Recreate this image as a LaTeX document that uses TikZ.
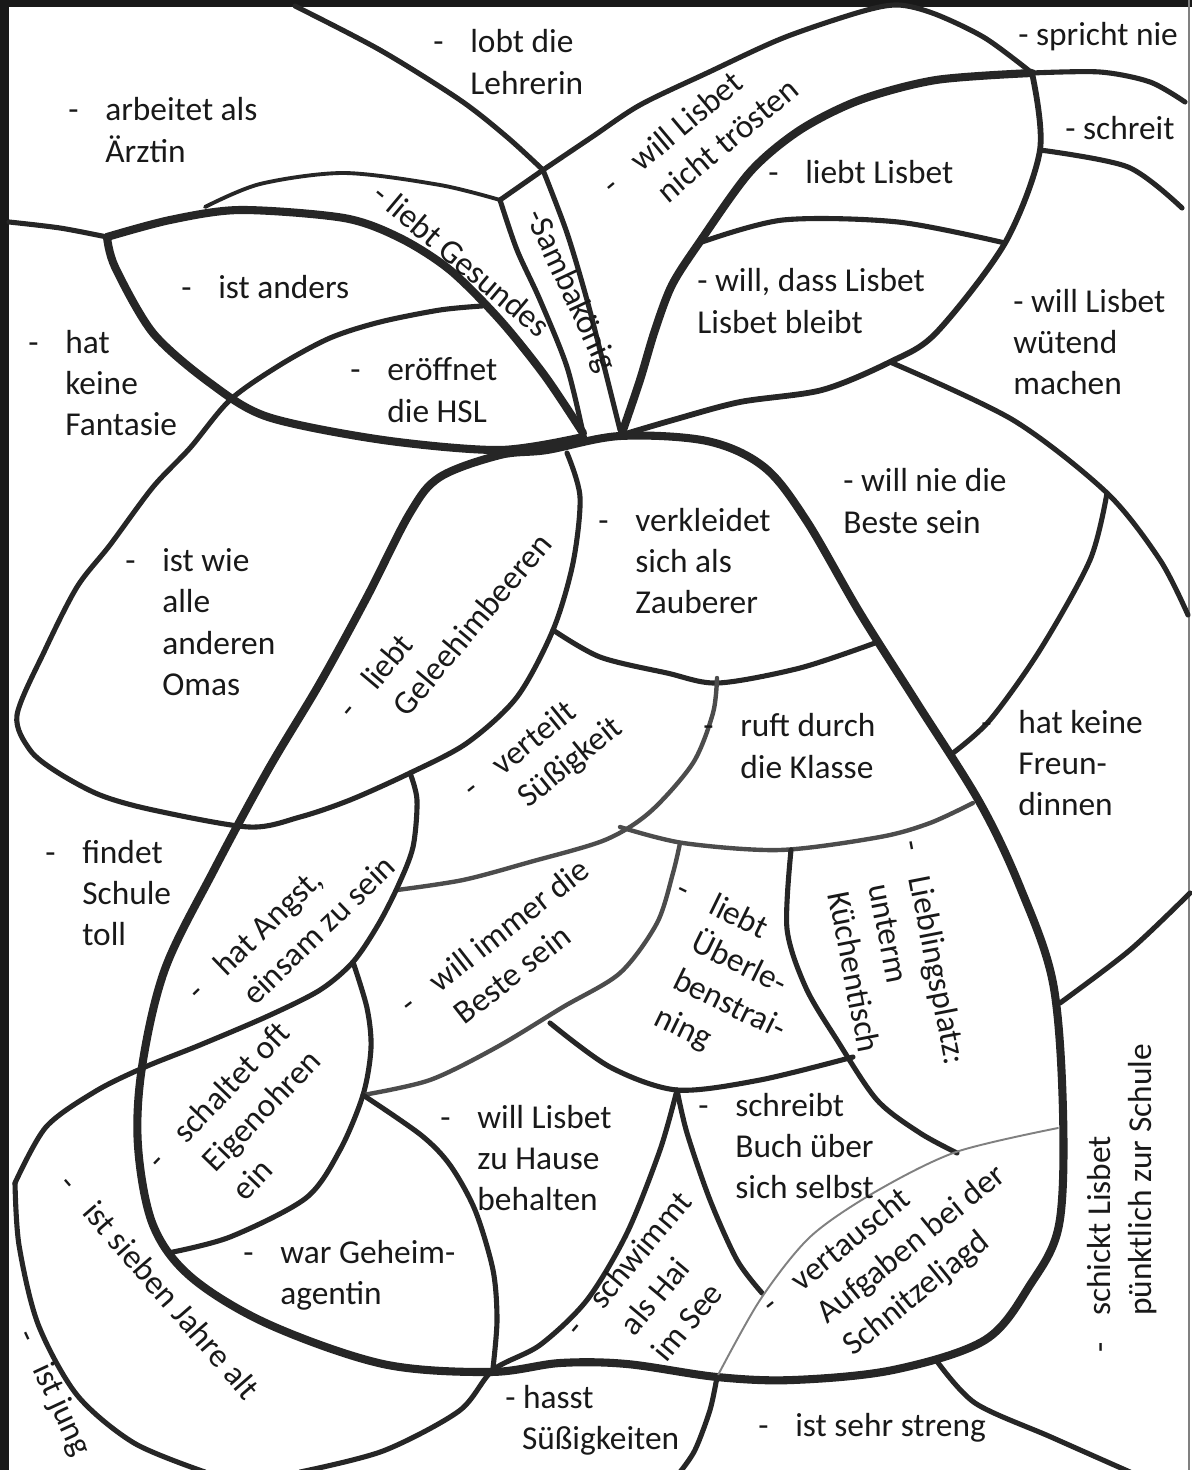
\documentclass[tikz,border=0pt]{standalone}
\usepackage{fontspec}
\setmainfont{Carlito}
\newcommand{\bubfont}{\fontsize{19}{23.5}\selectfont}
\newcommand{\dsh}{\llap{-\hspace{0.8em}}}

\begin{document}
\begin{tikzpicture}[x=0.02cm, y=-0.02cm,
    pen/.style={line width=2.9pt, draw=black!85, line cap=round, line join=round},
    bold/.style={pen, line width=4.6pt},
    soft/.style={pen, line width=2.5pt, draw=black!70},
    hair/.style={line width=1.1pt, draw=black!50, line cap=round},
    txt/.style={font=\bubfont, inner sep=0pt, align=left, text=black!90},
    lab/.style={txt, anchor=west}]
  \useasboundingbox (0,0) rectangle (1192,1470);

  % Rahmen
  \fill[black!90] (0,0) rectangle (9,1470);
  \fill[black!90] (0,0) rectangle (1192,7);
  \draw[hair] (1189,0) -- (1189,1470);

  % Blaetter links oben
  \draw[pen] plot[smooth] coordinates {(295,6) (380,50) (460,100) (507,137) (543,170)};
  \draw[pen] plot[smooth] coordinates {(543,170) (592,137) (640,105) (707,73) (783,38) (860,12) (898,5) (935,14) (985,38) (1032,73)};
  \draw[pen] (543,170) -- (500,200);
  \draw[pen, line width=2.2pt] plot[smooth] coordinates {(500,200) (440,185) (344,173) (260,184) (205,207)};
  \draw[bold] plot[smooth] coordinates {(107,237) (170,220) (240,210) (344,218) (400,238) (450,270) (500,320) (545,376) (583,433)};
  \draw[pen] plot[smooth] coordinates {(107,237) (60,228) (9,222)};
  \draw[bold] plot[smooth] coordinates {(107,237) (115,267) (153,333) (210,383) (268,417) (383,440) (500,450) (583,437)};
  \draw[pen] plot[smooth] coordinates {(500,200) (517,250) (540,300) (567,367) (583,433)};
  \draw[pen] plot[smooth] coordinates {(543,170) (567,233) (587,300) (605,370) (620,430)};

  % Blatt rechts oben
  \draw[bold] plot[smooth] coordinates {(622,433) (640,380) (655,330) (672,285) (699,243) (750,172) (800,130) (860,100) (936,80) (1032,73)};
  \draw[pen, line width=3.3pt] plot[smooth] coordinates {(622,435) (673,420) (740,402) (822,390) (890,362) (936,333) (1005,243) (1040,150) (1032,73)};
  \draw[pen] plot[smooth] coordinates {(699,243) (783,220) (898,222) (1005,243)};
  \draw[pen] plot[smooth] coordinates {(1032,73) (1100,72) (1150,82) (1185,102)};
  \draw[pen] plot[smooth] coordinates {(1040,150) (1128,167) (1182,208)};
  \draw[pen] plot[smooth] coordinates {(890,362) (1013,420) (1107,493) (1160,560) (1188,615)};
  \draw[pen] plot[smooth] coordinates {(1107,493) (1090,560) (1040,650) (990,720) (953,753)};
  \draw[pen] plot[smooth] coordinates {(1190,893) (1130,950) (1060,1003)};

  % Koerper
  \draw[bold] plot[smooth cycle, tension=0.55] coordinates {(620,436) (707,441) (764,467) (806,520) (860,613) (917,703) (980,803) (1020,887) (1053,983) (1063,1112) (1059,1225) (1030,1285) (985,1340) (893,1370) (793,1380) (717,1377) (627,1364) (560,1363) (490,1372) (383,1364) (268,1324) (191,1277) (153,1225) (138,1146) (142,1067) (165,969) (214,870) (268,770) (320,683) (367,597) (410,513) (440,477) (500,455) (547,450)};

  % Felder innen
  \draw[pen] plot[smooth] coordinates {(482,306) (440,310) (380,322) (330,338) (280,365) (230,400) (190,448) (153,487) (110,545) (77,587) (45,650) (17,715) (30,750) (57,772) (100,795) (153,810) (249,827) (300,817) (350,800) (410,773) (467,743) (517,697) (553,630) (573,563) (580,497) (567,453)};
  \draw[pen] plot[smooth] coordinates {(553,630) (600,657) (667,673) (718,683) (800,668) (875,643)};
  \draw[soft] plot[smooth] coordinates {(717,678) (713,713) (693,763) (650,812) (605,840) (530,862) (463,880) (397,890)};
  \draw[pen] plot[smooth] coordinates {(410,773) (417,800) (413,847) (398,886) (378,925) (353,962) (320,990) (268,1016) (200,1045) (145,1067) (96,1091) (46,1127) (15,1183)};
  \draw[pen] plot[smooth] coordinates {(353,962) (367,1008) (371,1048) (363,1095) (340,1150) (306,1198) (230,1237) (168,1253)};
  \draw[soft] plot[smooth] coordinates {(680,843) (673,873) (657,923) (620,973) (563,1007) (497,1047) (430,1080) (363,1095)};
  \draw[pen] plot[smooth] coordinates {(363,1095) (421,1135) (450,1165) (475,1210) (493,1270) (497,1320) (493,1368)};
  \draw[soft] plot[smooth] coordinates {(620,827) (683,843) (780,850) (880,837) (930,823) (973,803)};
  \draw[pen] plot[smooth] coordinates {(550,1023) (610,1067) (677,1090) (760,1080) (853,1057)};
  \draw[pen] plot[smooth] coordinates {(791,850) (787,929) (806,988) (837,1040) (877,1100) (920,1133) (957,1153)};
  \draw[pen] plot[smooth] coordinates {(677,1090) (660,1150) (627,1233) (587,1300) (540,1345) (493,1370) (459,1411) (383,1451) (300,1472)};
  \draw[pen] plot[smooth] coordinates {(677,1090) (687,1133) (710,1200) (737,1260) (762,1293)};
  \draw[hair] plot[smooth] coordinates {(1058,1128) (956,1152) (875,1192) (810,1237) (760,1300) (717,1377)};
  \draw[pen] plot[smooth] coordinates {(717,1377) (710,1410) (695,1450) (680,1472)};
  \draw[pen] plot[smooth] coordinates {(936,1360) (975,1403) (1051,1437) (1130,1472)};
  \draw[pen] plot[smooth] coordinates {(15,1183) (19,1245) (38,1324) (77,1395) (134,1443) (205,1472)};

  % Texte waagrecht
  \node[lab] (lobt) at (470,62) {\dsh lobt die\\Lehrerin};
  \node[lab] (aerztin) at (105,130) {\dsh arbeitet als\\Ärztin};
  \node[lab] (spricht) at (1018,37) {- spricht nie};
  \node[lab] (schreit) at (1065,128) {- schreit};
  \node[lab] (liebt) at (805,172) {\dsh liebt Lisbet};
  \node[lab] (bleibt) at (697,301) {- will, dass Lisbet\\Lisbet bleibt};
  \node[lab] (wuetend) at (1013,342) {- will Lisbet\\wütend\\machen};
  \node[lab] (anders) at (218,287) {\dsh ist anders};
  \node[lab] (fantasie) at (65,383) {\dsh hat\\keine\\Fantasie};
  \node[lab] (hsl) at (387,390) {\dsh eröffnet\\die HSL};
  \node[lab] (zauber) at (635,561) {\dsh verkleidet\\sich als\\Zauberer};
  \node[lab] (niebeste) at (843,501) {- will nie die\\Beste sein};
  \node[lab] (omas) at (162,622) {\dsh ist wie\\alle\\anderen\\Omas};
  \node[lab] (klasse) at (740,746) {\dsh ruft durch\\die Klasse};
  \node[lab] (freund) at (1018,763) {\dsh hat keine\\Freun-\\dinnen};
  \node[lab] (schule) at (82,893) {\dsh findet\\Schule\\toll};
  \node[lab] (buch) at (735,1146) {\dsh schreibt\\Buch über\\sich selbst};
  \node[lab] (hause) at (477,1158) {\dsh will Lisbet\\zu Hause\\behalten};
  \node[lab] (agentin) at (280,1275) {\dsh war Geheim-\\agentin};
  \node[lab] (hasst) at (505,1420) {- hasst\\\hspace*{0.5em}Süßigkeiten};
  \node[lab] (streng) at (795,1428) {\dsh ist sehr streng};

  % Texte schraeg
  \node[txt, rotate=40] (troesten) at (714,124) {\dsh will Lisbet\\nicht trösten};
  \node[txt, rotate=-40] (gesund) at (462,260) {- liebt Gesundes};
  \node[txt, rotate=-65] (samba) at (570,291) {-Sambakönig};
  \node[txt, rotate=50] (gelee) at (456,611) {\dsh liebt\\Geleehimbeeren};
  \node[txt, rotate=39] (suess) at (558,747) {\dsh verteilt\\Süßigkeit};
  \node[txt, rotate=44] (angst) at (304,915) {\dsh hat Angst,\\einsam zu sein};
  \node[txt, rotate=38] (immer) at (521,941) {\dsh will immer die\\Beste sein};
  \node[txt, rotate=-26] (training) at (738,987) {\dsh liebt\\Überle-\\benstrai-\\ning};
  \node[txt, rotate=-79] (platz) at (898,978) {\dsh Lieblingsplatz:\\unterm\\Küchentisch};
  \node[txt, rotate=46] (ohren) at (261,1110) {\dsh schaltet oft\\Eigenohren\\ein};
  \node[txt, rotate=50] (hai) at (671,1276) {\dsh schwimmt\\als Hai\\im See};
  \node[txt, rotate=39] (jagd) at (912,1245) {\dsh vertauscht\\Aufgaben bei der\\Schnitzeljagd};
  \node[txt, rotate=90] (puenktlich) at (1122,1180) {\dsh schickt Lisbet\\pünktlich zur Schule};
  \node[txt, rotate=-49] (sieben) at (172,1300) {\dsh ist sieben Jahre alt};
  \node[txt, rotate=-65] (jung) at (61,1410) {\dsh ist jung};
\end{tikzpicture}
\end{document}
